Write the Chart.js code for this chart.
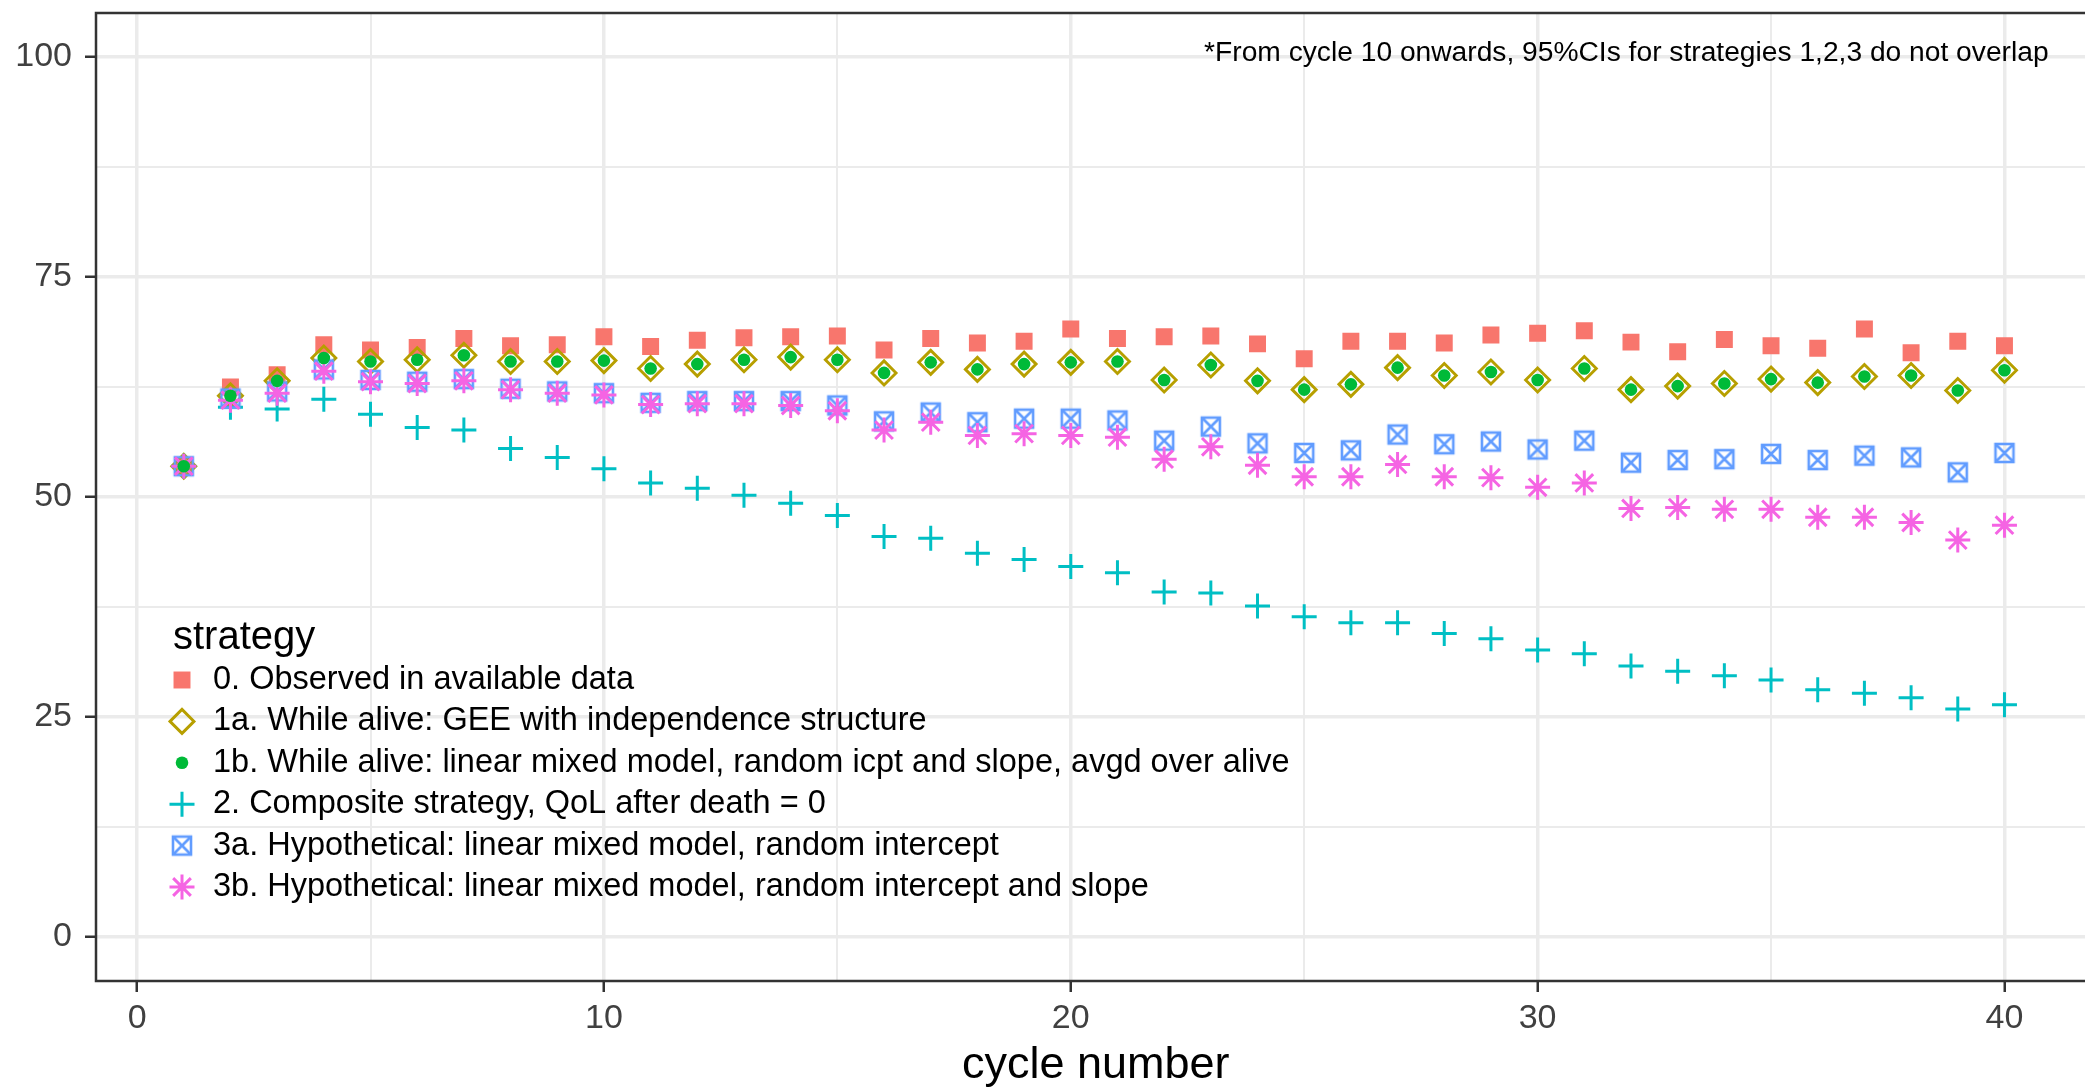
<!DOCTYPE html>
<html>
<head>
<meta charset="utf-8">
<script src="https://cdn.jsdelivr.net/npm/chart.js@4.4.1/dist/chart.umd.min.js"></script>
<style>
  html, body { margin: 0; padding: 0; background: #ffffff; overflow: hidden; }
  #grafico { position: absolute; left: 0; top: -30px; }
</style>
</head>
<body>
<canvas id="grafico" width="2111" height="1118"></canvas>
<script>
// data
var cycles = [1, 2, 3, 4, 5, 6, 7, 8, 9, 10, 11, 12, 13, 14, 15, 16, 17, 18, 19, 20,
              21, 22, 23, 24, 25, 26, 27, 28, 29, 30, 31, 32, 33, 34, 35, 36, 37, 38, 39, 40];

var strategies = [
    '0. Observed in available data',
    '1a. While alive: GEE with independence structure',
    '1b. While alive: linear mixed model, random icpt and slope, avgd over alive',
    '2. Composite strategy, QoL after death = 0',
    '3a. Hypothetical: linear mixed model, random intercept',
    '3b. Hypothetical: linear mixed model, random intercept and slope'
];

var observed = [53.5, 62.5, 63.9, 67.3, 66.7, 67.0, 68.0, 67.2, 67.3, 68.2,
                67.1, 67.8, 68.1, 68.2, 68.3, 66.7, 68.0, 67.5, 67.7, 69.1,
                68.0, 68.2, 68.3, 67.4, 65.7, 67.7, 67.7, 67.5, 68.4, 68.6,
                68.9, 67.6, 66.5, 67.9, 67.2, 66.9, 69.1, 66.4, 67.7, 67.2];

var geeAlive = [53.5, 61.5, 63.2, 65.8, 65.4, 65.6, 66.1, 65.4, 65.4, 65.5,
                64.6, 65.1, 65.6, 65.9, 65.6, 64.1, 65.3, 64.5, 65.1, 65.3,
                65.4, 63.3, 65.0, 63.2, 62.2, 62.8, 64.7, 63.8, 64.2, 63.3,
                64.6, 62.2, 62.6, 62.9, 63.4, 63.0, 63.7, 63.8, 62.1, 64.4];

var lmmAlive = [53.5, 61.5, 63.2, 65.8, 65.4, 65.6, 66.1, 65.4, 65.4, 65.5,
                64.6, 65.1, 65.6, 65.9, 65.6, 64.1, 65.3, 64.5, 65.1, 65.3,
                65.4, 63.3, 65.0, 63.2, 62.2, 62.8, 64.7, 63.8, 64.2, 63.3,
                64.6, 62.2, 62.6, 62.9, 63.4, 63.0, 63.7, 63.8, 62.1, 64.4];

var composite = [53.5, 60.2, 60.0, 61.1, 59.4, 57.9, 57.6, 55.5, 54.5, 53.2,
                 51.6, 51.0, 50.2, 49.3, 47.9, 45.5, 45.3, 43.6, 42.9, 42.1,
                 41.4, 39.2, 39.1, 37.6, 36.4, 35.7, 35.7, 34.5, 33.9, 32.6,
                 32.2, 30.8, 30.2, 29.7, 29.2, 28.1, 27.7, 27.2, 25.9, 26.4];

var hypoIcpt = [53.5, 61.2, 62.0, 64.5, 63.3, 63.1, 63.4, 62.3, 62.0, 61.8,
                60.7, 60.9, 60.9, 60.9, 60.4, 58.6, 59.6, 58.5, 58.9, 58.9,
                58.7, 56.4, 58.0, 56.1, 55.0, 55.3, 57.1, 56.0, 56.3, 55.4,
                56.4, 53.9, 54.2, 54.3, 54.9, 54.2, 54.7, 54.5, 52.8, 55.0];

var hypoSlope = [53.5, 61.0, 61.8, 64.3, 63.1, 62.9, 63.2, 62.2, 61.8, 61.6,
                 60.5, 60.6, 60.6, 60.4, 59.8, 57.6, 58.5, 57.0, 57.2, 57.0,
                 56.8, 54.3, 55.7, 53.6, 52.3, 52.3, 53.7, 52.3, 52.2, 51.1,
                 51.6, 48.7, 48.8, 48.6, 48.6, 47.7, 47.7, 47.1, 45.1, 46.8];

var xTicks = [0, 10, 20, 30, 40];
var xTickLabels = ['0', '10', '20', '30', '40'];
var xMinorTicks = [5, 15, 25, 35];
var yTicks = [0, 25, 50, 75, 100];
var yTickLabels = ['0', '25', '50', '75', '100'];
var yMinorTicks = [12.5, 37.5, 62.5, 87.5];

var legendTitle = 'strategy';
var xTitle = 'cycle number';
var note = '*From cycle 10 onwards, 95%CIs for strategies 1,2,3 do not overlap';

var FONT = '"Liberation Sans", Arial, Helvetica, sans-serif';
Chart.defaults.font.family = FONT;

// open square with an X inside (ggplot shape 7)
function cuadradoCruz(color) {
    var c = document.createElement('canvas');
    c.width = 26;
    c.height = 26;
    var g = c.getContext('2d');
    g.strokeStyle = color;
    g.lineWidth = 2.6;
    g.strokeRect(4, 4, 18, 18);
    g.beginPath();
    g.moveTo(4, 4); g.lineTo(22, 22);
    g.moveTo(22, 4); g.lineTo(4, 22);
    g.stroke();
    return c;
}

var series = [observed, geeAlive, lmmAlive, composite, hypoIcpt, hypoSlope];
var estilos = [
    { color: '#F8766D', pointStyle: 'rect', radius: 12, fill: true, width: 0, order: 5 },
    { color: '#B79F00', pointStyle: 'rectRot', radius: 12, fill: false, width: 2.9, order: 4 },
    { color: '#00BA38', pointStyle: 'circle', radius: 6.3, fill: true, width: 0, order: 0 },
    { color: '#00BFC4', pointStyle: 'cross', radius: 12.5, fill: false, width: 3, order: 3 },
    { color: '#619CFF', pointStyle: cuadradoCruz('#619CFF'), radius: 10, fill: false, width: 2.6, order: 2 },
    { color: '#F564E3', pointStyle: 'star', radius: 12.5, fill: false, width: 3, order: 1 }
];

var datasets = series.map(function (vals, i) {
    var e = estilos[i];
    return {
        label: strategies[i],
        data: cycles.map(function (c, k) { return { x: c, y: vals[k] }; }),
        showLine: false,
        order: e.order,
        pointStyle: e.pointStyle,
        pointRadius: e.radius,
        pointHoverRadius: e.radius,
        pointBackgroundColor: e.fill ? e.color : 'rgba(0,0,0,0)',
        pointBorderColor: e.color,
        pointBorderWidth: e.width,
        pointHoverBorderWidth: e.width
    };
});

function esMayor(v, lista) { return lista.indexOf(v) >= 0; }

function rejilla(mayores) {
    return {
        color: '#EBEBEB',
        lineWidth: function (c) { return esMayor(c.tick.value, mayores) ? 3.5 : 2; },
        tickColor: function (c) { return esMayor(c.tick.value, mayores) ? '#333333' : 'rgba(0,0,0,0)'; },
        tickLength: 11,
        tickWidth: 2.5
    };
}

// legend inside the panel, note text and panel border
var extras = {
    id: 'extras',
    afterDraw: function (chart) {
        var c = chart.ctx;
        var a = chart.chartArea;
        var xs = chart.scales.x;
        var ys = chart.scales.y;
        c.save();
        c.textBaseline = 'middle';

        c.fillStyle = '#000000';
        c.textAlign = 'center';
        c.font = '28.2px ' + FONT;
        c.fillText(note, xs.getPixelForValue(31.9), ys.getPixelForValue(100.4));

        c.textAlign = 'left';
        c.font = '40px ' + FONT;
        c.fillText(legendTitle, a.left + 77, a.top + 625);
        c.font = '32.5px ' + FONT;
        strategies.forEach(function (txt, i) {
            var y = a.top + 667 + i * 41.4;
            var e = estilos[i];
            c.fillStyle = e.fill ? e.color : 'rgba(0,0,0,0)';
            c.strokeStyle = e.color;
            c.lineWidth = e.width;
            Chart.helpers.drawPoint(c, { pointStyle: e.pointStyle, radius: e.radius, rotation: 0, borderWidth: e.width }, a.left + 86, y);
            c.fillStyle = '#000000';
            c.fillText(txt, a.left + 117, y);
        });

        c.strokeStyle = '#333333';
        c.lineWidth = 2.5;
        c.strokeRect(a.left, a.top, a.right - a.left, a.bottom - a.top);
        c.restore();
    }
};

var ctx = document.getElementById('grafico').getContext('2d');
var chart = new Chart(ctx, {
    type: 'scatter',
    data: { datasets: datasets },
    plugins: [extras],
    options: {
        responsive: false,
        animation: false,
        devicePixelRatio: 1,
        layout: { padding: { top: 43, right: 5, bottom: 0, left: 0 } },
        plugins: {
            legend: { display: false },
            tooltip: { enabled: false }
        },
        scales: {
            x: {
                type: 'linear',
                min: -0.88,
                max: 41.95,
                afterBuildTicks: function (s) {
                    s.ticks = xTicks.concat(xMinorTicks).sort(function (a, b) { return a - b; })
                        .map(function (v) { return { value: v }; });
                },
                afterFit: function (s) { s.height = 107; },
                ticks: {
                    autoSkip: false,
                    maxRotation: 0,
                    color: '#404040',
                    font: { size: 34 },
                    padding: 6,
                    callback: function (v) {
                        var i = xTicks.indexOf(v);
                        return i >= 0 ? xTickLabels[i] : '';
                    }
                },
                grid: rejilla(xTicks),
                border: { display: false },
                title: {
                    display: true,
                    text: xTitle,
                    color: '#000000',
                    font: { size: 45, lineHeight: 1 },
                    padding: { top: 0, bottom: 0 }
                }
            },
            y: {
                type: 'linear',
                min: -5,
                max: 105,
                afterBuildTicks: function (s) {
                    s.ticks = yTicks.concat(yMinorTicks).sort(function (a, b) { return a - b; })
                        .map(function (v) { return { value: v }; });
                },
                afterFit: function (s) { s.width = 96; },
                ticks: {
                    autoSkip: false,
                    color: '#404040',
                    font: { size: 34 },
                    padding: 13,
                    callback: function (v) {
                        var i = yTicks.indexOf(v);
                        return i >= 0 ? yTickLabels[i] : '';
                    }
                },
                grid: rejilla(yTicks),
                border: { display: false }
            }
        }
    }
});
</script>
</body>
</html>
